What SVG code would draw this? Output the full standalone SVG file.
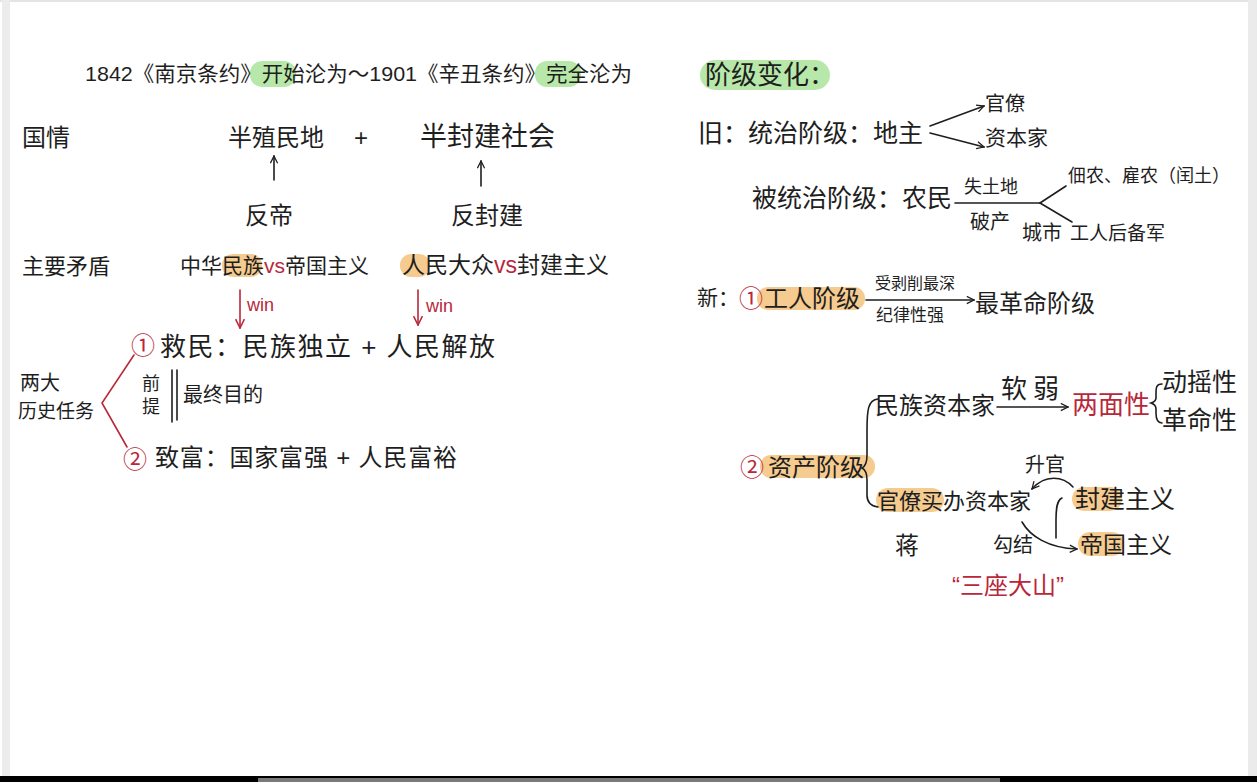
<svg xmlns="http://www.w3.org/2000/svg" width="1257" height="782" viewBox="0 0 1257 782">
<defs>
<style>
text{font-family:"Liberation Sans","Noto Sans CJK SC",sans-serif;fill:#1e1e1e;}
.t{font-size:24px;}
.s{font-size:18px;}
.r{fill:#b8283a;}
.ln{stroke:#1e1e1e;stroke-width:1.6;fill:none;stroke-linecap:round;}
.rl{stroke:#b8283a;stroke-width:1.6;fill:none;stroke-linecap:round;}
.hl-o{fill:#f3b96a;opacity:0.75;}
.hl-g{fill:#9fe08c;opacity:0.75;}
</style>
<marker id="ah" viewBox="0 0 10 10" refX="9" refY="5" markerWidth="9" markerHeight="9" orient="auto" markerUnits="userSpaceOnUse">
<path d="M1,1 L9,5 L1,9" fill="none" stroke="#1e1e1e" stroke-width="1.4"/>
</marker>
<marker id="ahr" viewBox="0 0 10 10" refX="9" refY="5" markerWidth="11" markerHeight="11" orient="auto" markerUnits="userSpaceOnUse">
<path d="M1,1 L9,5 L1,9" fill="none" stroke="#b8283a" stroke-width="1.4"/>
</marker>
</defs>
<rect x="0" y="0" width="1257" height="782" fill="#ffffff"/>
<rect x="0" y="0" width="1257" height="2" fill="#e4e4e4"/>
<rect x="2" y="0" width="8" height="776" fill="#ececec"/>
<rect x="1248" y="0" width="9" height="776" fill="#ebebeb"/>
<rect x="0" y="776" width="1257" height="6" fill="#000000"/>
<rect x="258" y="778" width="742" height="4" fill="#7a7a7a"/>

<g id="highlights">
<rect class="hl-g" x="250" y="61" width="46" height="26" rx="12"/>
<rect class="hl-g" x="535" y="61" width="46" height="26" rx="12"/>
<rect class="hl-g" x="700" y="60" width="130" height="30" rx="15"/>
<rect class="hl-o" x="222" y="254" width="40" height="23" rx="11"/>
<rect class="hl-o" x="400" y="254" width="30" height="23" rx="11"/>
<rect class="hl-o" x="757" y="287" width="108" height="23" rx="11"/>
<rect class="hl-o" x="760" y="455" width="115" height="23" rx="11"/>
<rect class="hl-o" x="876" y="488" width="68" height="24" rx="12"/>
<rect class="hl-o" x="1072" y="487" width="50" height="24" rx="12"/>
<rect class="hl-o" x="1078" y="532" width="46" height="24" rx="12"/>
</g>

<g id="connectors">
<line class="ln" x1="274" y1="180" x2="274" y2="156" marker-end="url(#ah)"/>
<line class="ln" x1="481" y1="186" x2="481" y2="161" marker-end="url(#ah)"/>
<line class="rl" x1="240" y1="290" x2="240" y2="328" marker-end="url(#ahr)"/>
<line class="rl" x1="418" y1="290" x2="418" y2="325" marker-end="url(#ahr)"/>
<path class="rl" d="M134,355 L102,403 L127,447"/>
<line class="ln" x1="172" y1="370" x2="172" y2="422"/>
<line class="ln" x1="177" y1="370" x2="177" y2="420"/>
<line class="ln" x1="930" y1="126" x2="984" y2="106" marker-end="url(#ah)"/>
<line class="ln" x1="930" y1="133" x2="984" y2="147" marker-end="url(#ah)"/>
<line class="ln" x1="955" y1="203" x2="1040" y2="203"/>
<line class="ln" x1="1040" y1="203" x2="1066" y2="186"/>
<line class="ln" x1="1040" y1="203" x2="1072" y2="222"/>
<line class="ln" x1="866" y1="300" x2="974" y2="300" marker-end="url(#ah)"/>
<path class="ln" d="M878,399 C868,400 867,410 867,430 L867,455 C867,462 866,466 862,468 C866,470 867,474 867,480 L867,495 C867,502 870,506 878,507"/>
<line class="ln" x1="997" y1="407" x2="1068" y2="407" marker-end="url(#ah)"/>
<path class="ln" d="M1162,384 C1156,384 1156,388 1156,394 L1156,398 C1156,401 1154,402 1151,403 C1154,404 1156,406 1156,409 L1156,413 C1156,419 1157,423 1162,423"/>
<path class="ln" d="M1073,487 C1063,476 1045,474 1032,489" marker-end="url(#ah)"/>
<path class="ln" d="M1062,498 C1057,500 1056,508 1056,520 L1056,538"/>
<path class="ln" d="M1022,522 C1030,536 1048,548 1077,549" marker-end="url(#ah)"/>
</g>

<g id="title"><text x="85" y="81" style="font-size:21px" textLength="547" lengthAdjust="spacingAndGlyphs">1842《南京条约》开始沦为～1901《辛丑条约》完全沦为</text></g>

<g id="guoqing"><text class="t" x="22" y="146">国情</text></g>
<g id="banzhimin"><text class="t" x="228" y="146">半殖民地</text></g>
<g id="plus1"><text class="t" x="354" y="146">+</text></g>
<g id="banfengjian"><text x="420" y="146" style="font-size:27px">半封建社会</text></g>
<g id="fandi"><text class="t" x="245" y="224">反帝</text></g>
<g id="fanfengjian"><text class="t" x="451" y="224">反封建</text></g>

<g id="maodun"><text x="22" y="274" style="font-size:22px">主要矛盾</text></g>
<g id="maodun1"><text x="180" y="273" style="font-size:21px">中华民族<tspan class="r">vs</tspan>帝国主义</text></g>
<g id="maodun2"><text x="402" y="273" style="font-size:23px">人民大众<tspan class="r">vs</tspan>封建主义</text></g>
<g id="win1"><text class="s r" x="247" y="311">win</text></g>
<g id="win2"><text class="s r" x="426" y="312">win</text></g>

<g id="renwu"><text x="20" y="390" style="font-size:20px">两大</text><text x="18" y="418" style="font-size:19px">历史任务</text></g>
<g id="jiumin"><text class="t r" x="131" y="354">①</text><text x="160" y="356" style="font-size:26px" textLength="335">救民：民族独立 + 人民解放</text></g>
<g id="qianti"><text class="s" x="142" y="390">前</text><text class="s" x="142" y="413">提</text><text x="183" y="402" style="font-size:20px">最终目的</text></g>
<g id="zhifu"><text class="t r" x="123" y="468">②</text><text class="t" x="155" y="466" textLength="302">致富：国家富强 + 人民富裕</text></g>

<g id="jieji"><text x="705" y="84" style="font-size:26px">阶级变化：</text></g>
<g id="jiu"><text x="698" y="142" style="font-size:25px">旧：统治阶级：地主</text></g>
<g id="guanliao"><text x="985" y="111" style="font-size:20px">官僚</text></g>
<g id="zibenjia"><text x="985" y="145" style="font-size:21px">资本家</text></g>
<g id="beitongzhi"><text x="752" y="207" style="font-size:25px">被统治阶级：农民</text></g>
<g id="shitudi"><text class="s" x="964" y="193">失土地</text><text x="970" y="229" style="font-size:20px">破产</text></g>
<g id="diannong"><text class="s" x="1068" y="182">佃农、雇农（闰土）</text></g>
<g id="chengshi"><text x="1022" y="240" style="font-size:20px">城市</text><text x="1070" y="240" style="font-size:19px">工人后备军</text></g>

<g id="xin"><text x="697" y="305" style="font-size:21px">新：</text></g>
<g id="gongren"><text class="t r" x="739" y="307">①</text><text class="t" x="764" y="307">工人阶级</text></g>
<g id="boxue"><text x="875" y="289" style="font-size:16px">受剥削最深</text><text x="876" y="321" style="font-size:17px">纪律性强</text></g>
<g id="zuigeming"><text class="t" x="975" y="312">最革命阶级</text></g>

<g id="zichan"><text class="t r" x="740" y="476">②</text><text class="t" x="768" y="476">资产阶级</text></g>
<g id="minzu"><text class="t" x="875" y="414">民族资本家</text></g>
<g id="ruanruo"><text x="1001" y="398" style="font-size:26px" textLength="58">软弱</text></g>
<g id="liangmian"><text x="1072" y="414" style="font-size:26px" class="r">两面性</text></g>
<g id="dongyao"><text x="1162" y="391" style="font-size:25px">动摇性</text><text x="1162" y="429" style="font-size:25px">革命性</text></g>
<g id="guanliaomaiban"><text x="877" y="509" style="font-size:22px">官僚买办资本家</text></g>
<g id="shengguan"><text x="1025" y="472" style="font-size:20px">升官</text></g>
<g id="fengjianzhuyi"><text x="1075" y="508" style="font-size:25px">封建主义</text></g>
<g id="diguozhuyi"><text x="1080" y="553" style="font-size:23px">帝国主义</text></g>
<g id="jiang"><text class="t" x="895" y="554">蒋</text></g>
<g id="goujie"><text x="993" y="552" style="font-size:20px">勾结</text></g>
<g id="sanzuodashan"><text class="t r" x="952" y="594">“三座大山”</text></g>
</svg>
